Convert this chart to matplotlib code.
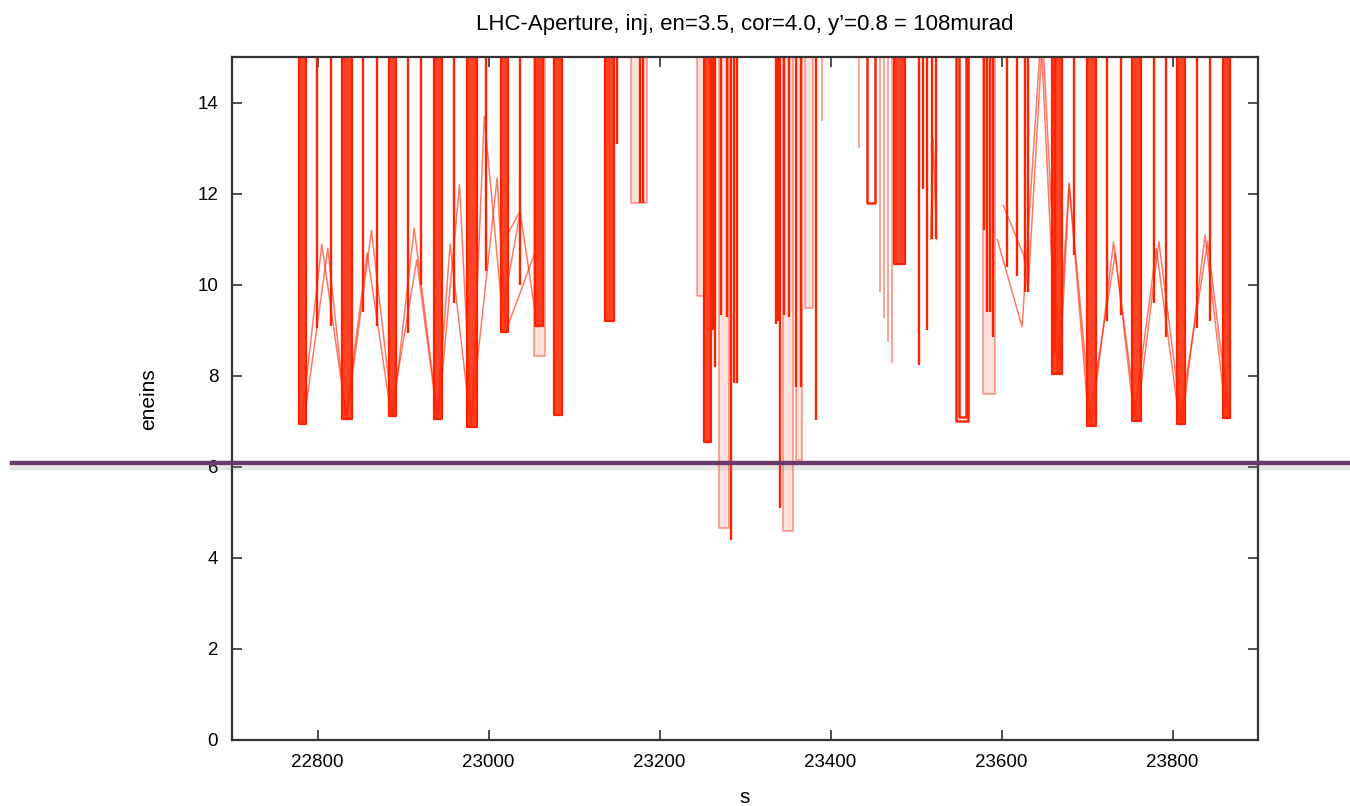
import matplotlib
matplotlib.use('Agg')
import matplotlib.pyplot as plt
import matplotlib.patheffects as pe
from matplotlib.transforms import blended_transform_factory

# ---- data ----
title = "LHC-Aperture, inj, en=3.5, cor=4.0, y\u2019=0.8 = 108murad"
x_ticks = [22800, 23000, 23200, 23400, 23600, 23800]
y_ticks = [0, 2, 4, 6, 8, 10, 12, 14]
limit_level = 6.08

# dense aperture clusters: left edge, right edge, lowest value
clu_left = [22778, 22829, 22883, 22936, 22975, 23014, 23054, 23077, 23136, 23252,
            23474, 23659, 23700, 23752, 23805, 23859]
clu_right = [22787, 22840, 22892, 22945, 22986, 23023, 23064, 23086, 23147, 23260,
             23487, 23671, 23711, 23763, 23815, 23867]
clu_low = [6.95, 7.05, 7.12, 7.05, 6.88, 8.97, 9.1, 7.15, 9.2, 6.55,
           10.45, 8.05, 6.9, 7.0, 6.95, 7.07]

# open u-shaped dips (outline only)
u_left = [23443, 23547, 23550]
u_right = [23452, 23561, 23558]
u_low = [11.8, 7.0, 7.1]

# faint u-shaped dips
pu_left = [23053, 23167, 23244, 23269, 23344, 23359, 23370, 23578]
pu_right = [23066, 23185, 23253, 23281, 23356, 23367, 23380, 23592]
pu_low = [8.45, 11.8, 9.75, 4.65, 4.6, 6.15, 9.5, 7.6]

# single aperture lines: position, lowest value
line_s = [22799, 22816, 22853, 22869, 22906, 22921, 22960, 22997, 23037, 23150,
          23177, 23181, 23262, 23265, 23272, 23279, 23283, 23287, 23290, 23336,
          23338, 23341, 23346, 23351, 23360, 23365, 23383, 23503, 23508, 23513,
          23519, 23523, 23579, 23583, 23587, 23590, 23606, 23618, 23627, 23631,
          23662, 23685, 23723, 23740, 23778, 23792, 23828, 23844]
line_low = [9.05, 9.1, 9.4, 9.1, 8.95, 10.0, 9.6, 10.3, 10.0, 13.1,
            11.8, 11.8, 9.0, 8.2, 9.35, 9.3, 4.4, 7.85, 7.85, 9.15,
            9.2, 5.1, 9.35, 9.3, 7.75, 7.75, 7.03, 8.25, 12.1, 9.0,
            11.0, 11.0, 11.2, 9.4, 9.4, 8.85, 10.4, 10.2, 9.85, 9.85,
            8.5, 10.65, 9.2, 9.35, 9.6, 8.85, 9.05, 9.2]

# faint single lines
pline_s = [23390, 23433, 23458, 23462, 23467, 23472]
pline_low = [13.6, 13.0, 9.85, 9.27, 8.75, 8.29]

# beta-beat zig-zags joining the cells
zig_a_s = [22781, 22805, 22834, 22863, 22888, 22913, 22941, 22966, 22980, 22995,
           23016, 23037, 23056]
zig_a_y = [6.95, 10.9, 7.05, 11.2, 7.12, 11.25, 7.05, 12.2, 6.9, 13.7,
           9.4, 11.6, 9.2]
zig_b_s = [22784, 22812, 22833, 22858, 22886, 22916, 22940, 22955, 22979, 23010,
           23020, 23054]
zig_b_y = [7.0, 10.8, 7.1, 10.7, 7.15, 10.55, 7.1, 10.9, 6.95, 12.35,
           8.97, 10.7]
zig_c_s = [23595, 23624, 23646, 23665, 23679, 23705, 23731, 23758, 23784, 23811,
           23838, 23863]
zig_c_y = [11.0, 9.08, 15.5, 8.05, 12.25, 6.9, 10.95, 7.0, 10.95, 6.95,
           11.1, 7.07]
zig_d_s = [23602, 23626, 23631, 23648, 23668, 23679, 23702, 23733, 23755, 23781,
           23808, 23841, 23866]
zig_d_y = [11.75, 10.65, 9.9, 15.5, 8.1, 12.2, 7.0, 10.7, 7.1, 10.8,
           7.0, 10.95, 7.1]
zig_e_s = [23022, 23036]
zig_e_y = [11.1, 11.6]
zig_f_s = [23517, 23520, 23524]
zig_f_y = [11.0, 13.2, 11.0]


def main():
    plt.rcParams['font.family'] = ['Liberation Sans', 'DejaVu Sans']
    fig = plt.figure(figsize=(13.5, 8.06), dpi=100)
    ax = fig.add_axes([0.1719, 0.0819, 0.7600, 0.8468])

    red = '#ff2200'
    top = 15.6

    # clusters: filled bars plus outline
    ax.bar(clu_left, [top - v for v in clu_low], bottom=clu_low,
           width=[r - l for l, r in zip(clu_left, clu_right)], align='edge',
           color=red, alpha=0.85, linewidth=0)
    for l, r, lo in zip(clu_left, clu_right, clu_low):
        ax.plot([l, l, r, r], [top, lo, lo, top], color=red, lw=1.6)

    for l, r, lo in zip(u_left, u_right, u_low):
        ax.plot([l, l, r, r], [top, lo, lo, top], color=red, lw=1.8)

    ax.bar(pu_left, [top - v for v in pu_low], bottom=pu_low,
           width=[r - l for l, r in zip(pu_left, pu_right)], align='edge',
           color=red, alpha=0.13, linewidth=0)
    for l, r, lo in zip(pu_left, pu_right, pu_low):
        ax.plot([l, l, r, r], [top, lo, lo, top], color=red, lw=1.2, alpha=0.45)

    ax.vlines(line_s, line_low, top, color=red, lw=1.7)
    ax.vlines(pline_s, pline_low, top, color=red, lw=1.3, alpha=0.45)

    for xs, ys in [(zig_a_s, zig_a_y), (zig_b_s, zig_b_y), (zig_c_s, zig_c_y),
                   (zig_d_s, zig_d_y), (zig_e_s, zig_e_y), (zig_f_s, zig_f_y)]:
        ax.plot(xs, ys, color=red, lw=1.1, alpha=0.6)

    # axes, gnuplot style
    ax.set_xlim(22700, 23900)
    ax.set_ylim(0, 15)
    ax.set_xticks(x_ticks)
    ax.set_yticks(y_ticks)
    ax.tick_params(direction='in', length=7, width=1.2, color='#333333',
                   top=True, right=True, labelsize=13.5, pad=10)
    for sp in ax.spines.values():
        sp.set_linewidth(1.6)
        sp.set_color('#333333')

    ax.set_title(title, fontsize=16, pad=20)
    ax.set_xlabel('s', fontsize=15, labelpad=12)
    ax.set_ylabel('eneins', fontsize=15, labelpad=28)

    # hand-drawn limit line across the whole slide
    tr = blended_transform_factory(fig.transFigure, ax.transData)
    ax.plot([12 / 1350, 1.0], [limit_level, limit_level], transform=tr,
            color='#6a3a6c', lw=3.2, clip_on=False, zorder=10,
            path_effects=[pe.SimpleLineShadow(offset=(0, -3), shadow_color='gray', alpha=0.2),
                          pe.Normal()])

    fig.savefig('out.png', dpi=100)
    plt.close(fig)


if __name__ == '__main__':
    main()
